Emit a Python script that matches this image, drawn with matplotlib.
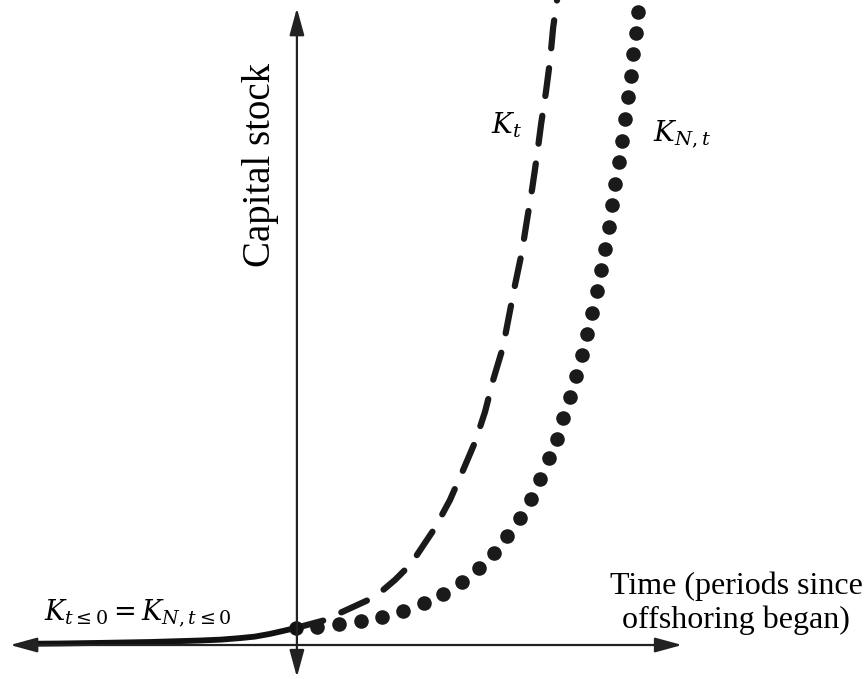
import matplotlib
matplotlib.use("Agg")
import matplotlib.pyplot as plt

plt.rcParams['mathtext.fontset'] = 'dejavuserif'

# time before offshoring (common path, solid)
t_pre = [-9.0, -7.87, -6.53, -4.87, -3.2, -2.5, -1.87, -1.37, -0.87, -0.43, 0.0]
k_pre = [0.04, 0.05, 0.07, 0.10, 0.15, 0.18, 0.23, 0.28, 0.37, 0.47, 0.57]

# K_t (dashed)
t_k = [0.0, 0.97, 1.47, 1.97, 2.47, 2.9, 3.3, 3.7, 4.03, 4.63, 5.13, 5.57,
       5.97, 6.3, 6.57, 6.9, 7.1, 7.3, 7.53, 7.7, 7.87, 8.03, 8.17, 8.33,
       8.47, 8.57, 8.7, 8.8]
k_k = [0.57, 0.83, 1.07, 1.3, 1.53, 1.83, 2.17, 2.57, 3.0, 3.9, 4.83, 5.83,
       6.77, 7.77, 8.83, 9.93, 10.97, 12.0, 13.1, 14.17, 15.2, 16.3, 17.37,
       18.43, 19.5, 20.57, 21.5, 22.17]

# K_N,t (dotted)
t_n = [0.0, 0.7, 1.43, 2.17, 2.87, 3.57, 4.27, 4.9, 5.53, 6.1, 6.6, 7.03, 7.47,
       7.83, 8.13, 8.43, 8.7, 8.9, 9.13, 9.33, 9.53, 9.7, 9.87, 10.03, 10.17,
       10.3, 10.43, 10.53, 10.63, 10.77, 10.87, 10.97, 11.07, 11.17, 11.23,
       11.33, 11.4]
k_n = [0.57, 0.6, 0.7, 0.8, 0.93, 1.13, 1.4, 1.7, 2.1, 2.57, 3.07, 3.63, 4.23,
       4.87, 5.53, 6.23, 6.87, 7.57, 8.27, 8.97, 9.67, 10.37, 11.07, 11.8, 12.5,
       13.2, 13.93, 14.67, 15.37, 16.1, 16.8, 17.53, 18.27, 18.97, 19.7,
       20.4, 21.1]

fig = plt.figure(figsize=(8.67, 6.79), dpi=100)
ax = fig.add_axes([0, 0, 1, 1])
ax.set_xlim(-9.867, 19.033)
ax.set_ylim(-1.133, 21.5)
ax.axis('off')

axis_col = '#222222'
arrow = dict(arrowstyle='<|-|>,head_length=1.1,head_width=0.3', color=axis_col,
             lw=1.6, mutation_scale=15, shrinkA=0, shrinkB=0)
# x axis
ax.annotate('', xy=(12.87, 0), xytext=(-9.53, 0), arrowprops=arrow)
# y axis
ax.annotate('', xy=(0.03, 21.23), xytext=(0.03, -1.07), arrowprops=arrow)

ax.plot(t_pre, k_pre, color='#111111', lw=4.2, solid_capstyle='butt')
ax.plot(t_k, k_k, color='#1a1a1a', lw=4.5, linestyle=(0, (4.5, 3.2)),
        dash_capstyle='round')
ax.plot(t_n, k_n, 'o', color='#1a1a1a', markersize=10.5, markeredgewidth=0)
ax.plot([0], [0.57], 'o', color='#111111', markersize=9, markeredgewidth=0)

ax.text(-1.2, 16.0, 'Capital stock', rotation=90, ha='center', va='center',
        fontsize=28, family='Liberation Serif')
ax.text(14.67, 1.4, 'Time (periods since\noffshoring began)', ha='center',
        va='center', fontsize=23, family='Liberation Serif', linespacing=1.2)
ax.text(7.03, 17.33, r'$K_t$', ha='center', va='center', fontsize=20)
ax.text(12.87, 17.03, r'$K_{N,t}$', ha='center', va='center', fontsize=20)
ax.text(-5.27, 1.07, r'$K_{t\leq0}=K_{N,t\leq0}$', ha='center', va='center',
        fontsize=19.5)

fig.savefig('out.png', dpi=100)
